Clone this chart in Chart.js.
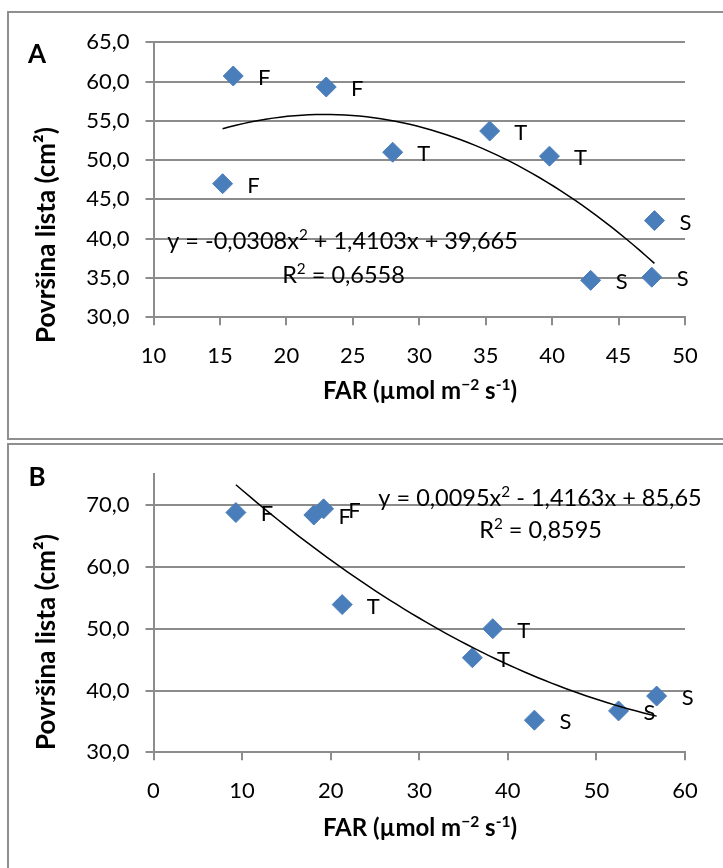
<!DOCTYPE html>
<html>
<head>
<meta charset="utf-8">
<script src="https://cdn.jsdelivr.net/npm/chart.js@4.4.1/dist/chart.umd.min.js"></script>
<style>
html, body { margin: 0; padding: 0; background: #fff; overflow: hidden; }
body { width: 723px; height: 868px; position: relative; }
.panel { position: absolute; left: 7px; width: 800px; border: 2px solid #8f8f8f; box-sizing: border-box; }
#pA { top: 11px; height: 429px; }
#pB { top: 443px; height: 500px; }
canvas { position: absolute; left: 0; top: 0; }
</style>
</head>
<body>
<div class="panel" id="pA"><canvas id="chartA" width="714" height="425"></canvas></div>
<div class="panel" id="pB"><canvas id="chartB" width="714" height="423"></canvas></div>
<script>
// panel A data
const farA = [16.0, 23.0, 15.2, 28.0, 35.3, 39.8, 47.7, 42.9, 47.5];
const leafA = [60.7, 59.3, 47.0, 51.0, 53.7, 50.5, 42.3, 34.7, 35.1];
const labelsA = ['F', 'F', 'F', 'T', 'T', 'T', 'S', 'S', 'S'];
const trendCoefA = [-0.0308, 1.4103, 39.665]; // a, b, c of trendline
const trendRangeA = [15.2, 47.7];
const yTicksA = [30, 35, 40, 45, 50, 55, 60, 65];

// panel B data
const farB = [9.3, 18.1, 19.2, 21.3, 38.3, 36.0, 43.0, 52.5, 56.8];
const leafB = [68.8, 68.4, 69.4, 53.9, 50.0, 45.3, 35.2, 36.7, 39.1];
const labelsB = ['F', 'F', 'F', 'T', 'T', 'T', 'S', 'S', 'S'];
const trendCoefB = [0.0095, -1.4163, 85.65];
const trendRangeB = [9.3, 56.8];
const yTicksB = [30, 40, 50, 60, 70];

const GRID = '#8c8c8c';
const BLUE = '#4a7ebb';
const FONT = 'Lato, "Open Sans", sans-serif';

function trendPoints(coef, range) {
    const pts = [];
    const n = 60;
    for (let i = 0; i <= n; i++) {
        const x = range[0] + (range[1] - range[0]) * i / n;
        pts.push({ x: x, y: coef[0] * x * x + coef[1] * x + coef[2] });
    }
    return pts;
}

// draw text with superscript pieces, centered on cx, caps centered on cy
function drawRich(ctx, parts, cx, cy, size, bold) {
    const w = bold ? 'bold ' : '';
    let total = 0;
    parts.forEach(p => {
        ctx.font = w + (p[1] ? size * 0.65 : size) + 'px ' + FONT;
        total += ctx.measureText(p[0]).width;
    });
    let x = cx - total / 2;
    const base = cy + size * 0.36;
    ctx.textAlign = 'left';
    ctx.textBaseline = 'alphabetic';
    parts.forEach(p => {
        ctx.font = w + (p[1] ? size * 0.65 : size) + 'px ' + FONT;
        ctx.fillText(p[0], x, p[1] ? base - size * 0.4 : base);
        x += ctx.measureText(p[0]).width;
    });
}

const textPlugin = {
    id: 'panelText',
    afterDatasetsDraw(chart, args, opts) {
        const ctx = chart.ctx;
        const xs = chart.scales.x, ys = chart.scales.y;
        ctx.save();
        ctx.fillStyle = '#000';
        // point labels
        opts.labels.forEach((lab, i) => {
            const px = xs.getPixelForValue(opts.xv[i]);
            const py = ys.getPixelForValue(opts.yv[i]);
            drawRich(ctx, [[lab]], px + 31, py + 1, 22, false);
        });
        // equation
        drawRich(ctx, [[opts.eq[0]], ['2', true], [opts.eq[1]]], opts.eqPos[0], opts.eqPos[1], 23.5, false);
        drawRich(ctx, [['R'], ['2', true], [' = ' + opts.r2]], opts.r2Pos[0], opts.r2Pos[1], 23.5, false);
        // panel letter
        drawRich(ctx, [[opts.letter]], 28, opts.letterY, 26, true);
        // x axis title
        drawRich(ctx, [['FAR (µmol m'], ['−2', true], [' s'], ['-1', true], [')']], 411, opts.xTitleY, 24, true);
        // y axis title (rotated)
        ctx.translate(37, opts.yTitleY);
        ctx.rotate(-Math.PI / 2);
        drawRich(ctx, [['Površina lista (cm²)']], 0, 0, 26, true);
        ctx.restore();
    }
};

function fmt(v) {
    return v.toFixed(1).replace('.', ',');
}

function makeChart(id, far, leaf, labels, coef, range, xMin, xMax, xStep, yMin, yMax, yTicks, xH, top, extra) {
    const points = far.map((x, i) => ({ x: x, y: leaf[i] }));
    return new Chart(document.getElementById(id), {
        type: 'scatter',
        data: {
            datasets: [
                {
                    type: 'line',
                    data: trendPoints(coef, range),
                    borderColor: '#000',
                    borderWidth: 1.5,
                    pointRadius: 0,
                    tension: 0,
                    order: 0
                },
                {
                    data: points,
                    pointStyle: 'rectRot',
                    pointRadius: 10,
                    backgroundColor: BLUE,
                    borderColor: BLUE,
                    borderWidth: 1,
                    order: 1
                }
            ]
        },
        options: {
            responsive: false,
            animation: false,
            layout: { autoPadding: false, padding: { left: 0, right: 38, top: top, bottom: 0 } },
            plugins: {
                legend: { display: false },
                tooltip: { enabled: false },
                panelText: Object.assign({ labels: labels, xv: far, yv: leaf }, extra)
            },
            scales: {
                x: {
                    type: 'linear',
                    min: xMin,
                    max: xMax,
                    afterFit: s => { s.height = xH; },
                    ticks: { stepSize: xStep, padding: 17, color: '#000', maxRotation: 0, font: { family: FONT, size: 22 } },
                    grid: { drawOnChartArea: false, drawTicks: true, tickLength: 8, color: GRID, lineWidth: 2 },
                    border: { color: GRID, width: 2 }
                },
                y: {
                    min: yMin,
                    max: yMax,
                    afterFit: s => { s.width = 144.5; },
                    afterBuildTicks: s => { s.ticks = yTicks.map(v => ({ value: v })); },
                    ticks: { padding: 16, color: '#000', callback: v => fmt(v), font: { family: FONT, size: 22 } },
                    grid: { color: GRID, lineWidth: 2, tickLength: 8 },
                    border: { color: GRID, width: 2 }
                }
            }
        },
        plugins: [textPlugin]
    });
}

makeChart('chartA', farA, leafA, labelsA, trendCoefA, trendRangeA, 10, 50, 5, 30, 65, yTicksA, 120.7, 28.3, {
    letter: 'A', letterY: 41,
    eq: ['y = -0,0308x', ' + 1,4103x + 39,665'], eqPos: [342.5 - 9, 228],
    r2: '0,6558', r2Pos: [334.5, 261.7],
    xTitleY: 377.5, yTitleY: 222
});

makeChart('chartB', farB, leafB, labelsB, trendCoefB, trendRangeB, 0, 60, 10, 30, 75, yTicksB, 115.7, 29, {
    letter: 'B', letterY: 31.5,
    eq: ['y = 0,0095x', ' - 1,4163x + 85,65'], eqPos: [531, 52.5],
    r2: '0,8595', r2Pos: [531.6, 84.7],
    xTitleY: 382.5, yTitleY: 197
});
</script>
</body>
</html>
